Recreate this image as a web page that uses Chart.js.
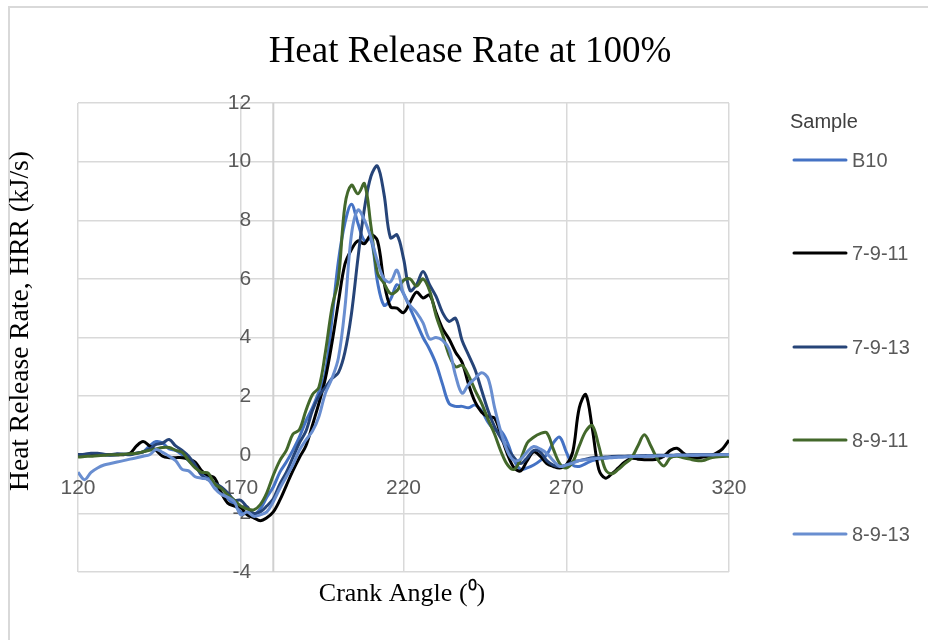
<!DOCTYPE html>
<html>
<head>
<meta charset="utf-8">
<title>Heat Release Rate at 100%</title>
<script src="https://cdn.jsdelivr.net/npm/chart.js@4.4.1/dist/chart.umd.min.js"></script>
<style>
    html, body { margin: 0; padding: 0; background: #fff; }
    #wrap { width: 928px; height: 640px; position: relative; }
</style>
</head>
<body>
<div id="wrap"><canvas id="hrr-chart"></canvas></div>
<script>
// Crank angle (degrees)
const crankAngles = [
    120, 122, 124, 126, 128, 130, 132, 134, 136, 138,
    140, 142, 144, 146, 148, 150, 152, 154, 156, 158,
    160, 162, 164, 166, 168, 170, 172, 174, 176, 178,
    180, 182, 184, 186, 188, 190, 192, 194, 196, 198,
    200, 202, 204, 206, 208, 210, 212, 214, 216, 218,
    220, 222, 224, 226, 228, 230, 232, 234, 236, 238,
    240, 242, 244, 246, 248, 250, 252, 254, 256, 258,
    260, 262, 264, 266, 268, 270, 272, 274, 276, 278,
    280, 282, 284, 286, 288, 290, 292, 294, 296, 298,
    300, 302, 304, 306, 308, 310, 312, 314, 316, 318,
    320
];

// Heat release rate (kJ/s) per sample
const hrrB10 = [
    0.0, 0.0, 0.02, 0.02, 0.0, -0.02, 0.0, 0.02, 0.03, 0.05,
    0.1, 0.3, 0.45, 0.4, 0.2, 0.15, 0.0, -0.2, -0.4, -0.6,
    -0.75, -1.0, -1.3, -1.5, -1.7, -1.95, -2.0, -2.05, -1.85, -1.45,
    -1.1, -0.6, -0.25, 0.15, 0.6, 1.15, 1.6, 2.15, 2.8, 4.6,
    6.6, 7.9, 8.55, 7.9, 7.3, 7.35, 5.9, 5.1, 5.3, 5.8,
    5.5, 5.0, 4.5, 4.0, 3.6, 3.1, 2.4, 1.75, 1.65, 1.65,
    1.6, 1.7, 1.5, 1.1, 0.85, 0.8, 0.4, -0.2, -0.5, -0.45,
    -0.35, -0.2, 0.0, 0.4, 0.6, 0.1, -0.35, -0.4, -0.3, -0.2,
    -0.15, -0.12, -0.1, -0.08, -0.07, -0.06, -0.05, -0.05, -0.04, -0.04,
    -0.03, -0.03, -0.02, -0.02, -0.02, -0.01, -0.01, -0.01, 0.0, 0.0,
    0.0
];
const hrr7911 = [
    0.0, 0.0, 0.0, 0.0, 0.0, 0.0, 0.0, 0.0, 0.05, 0.3,
    0.45, 0.3, 0.15, -0.05, -0.1, -0.1, -0.1, -0.15, -0.25, -0.55,
    -0.7, -0.8, -1.3, -1.65, -1.75, -1.8, -2.05, -2.15, -2.25, -2.15,
    -1.95, -1.55, -1.05, -0.55, -0.1, 0.3, 1.0, 1.75, 2.6, 3.8,
    5.2, 6.5, 7.0, 7.3, 7.2, 7.5, 7.3, 5.9, 5.05, 5.0,
    4.85, 5.2, 5.55, 5.35, 5.45, 4.85, 4.3, 3.95, 3.5, 3.15,
    2.4, 1.8, 1.45, 1.3, 1.25, 0.65, 0.0, -0.45, -0.55, -0.2,
    0.1, -0.05, -0.3, -0.4, -0.45, -0.35, 0.1, 1.6, 2.05, 0.9,
    -0.5, -0.8, -0.65, -0.45, -0.25, -0.12, -0.15, -0.17, -0.17, -0.15,
    -0.05, 0.15, 0.22, 0.05, -0.1, -0.12, -0.08, -0.05, 0.05, 0.2,
    0.5
];
const hrr7913 = [
    0.0, 0.02, 0.05, 0.05, 0.02, 0.0, 0.03, 0.02, 0.0, 0.05,
    0.1, 0.2, 0.35, 0.4, 0.52, 0.3, 0.15, -0.05, -0.35, -0.7,
    -0.85, -0.97, -1.1, -1.3, -1.55, -1.55, -1.8, -2.0, -1.95, -1.75,
    -1.5, -1.0, -0.6, -0.1, 0.4, 0.8, 1.5, 2.0, 2.3, 2.6,
    2.8, 3.5, 4.8, 6.7, 8.4, 9.5, 9.85, 8.9, 7.4, 7.5,
    6.7, 5.6, 5.8, 6.25, 5.8, 5.4, 4.85, 4.55, 4.65, 3.9,
    3.4, 2.9, 2.2, 1.5, 0.95, 0.55, 0.2, -0.1, -0.3, -0.1,
    0.15, 0.1, -0.2, -0.35, -0.4, -0.35, -0.25, -0.2, -0.15, -0.1,
    -0.1, -0.08, -0.06, -0.05, -0.05, -0.04, -0.04, -0.03, -0.03, -0.02,
    -0.02, -0.02, -0.01, -0.01, 0.0, 0.0, 0.0, 0.0, 0.0, 0.0,
    0.0
];
const hrr8911 = [
    -0.08, -0.06, -0.05, -0.03, -0.02, 0.0, 0.0, 0.02, 0.03, 0.05,
    0.1, 0.15, 0.2, 0.25, 0.25, 0.15, 0.08, -0.2, -0.45, -0.6,
    -0.63, -1.0, -1.15, -1.37, -1.55, -1.75, -1.85, -1.88, -1.7, -1.3,
    -0.7, -0.2, 0.15, 0.7, 0.85, 1.5, 2.05, 2.3, 3.5, 5.0,
    6.0, 8.5, 9.2, 8.9, 9.25, 7.8, 6.2, 5.85, 5.5, 5.6,
    5.95, 6.0, 5.75, 6.0, 5.6, 4.75, 4.1, 3.4, 3.0, 3.05,
    2.7, 2.2, 1.75, 1.2, 0.7, 0.1, -0.35, -0.5, -0.15, 0.4,
    0.6, 0.72, 0.75, 0.2, -0.3, -0.45, -0.25, 0.3, 0.8, 1.0,
    0.3, -0.5, -0.65, -0.5, -0.3, -0.12, 0.3, 0.68, 0.3, -0.15,
    -0.38, -0.1, -0.05, -0.1, -0.15, -0.2, -0.2, -0.12, -0.08, -0.06,
    -0.05
];
const hrr8913 = [
    -0.6, -0.85, -0.6, -0.45, -0.35, -0.3, -0.25, -0.2, -0.15, -0.1,
    -0.05, 0.0, 0.18, 0.08, -0.05, -0.2, -0.5, -0.55, -0.75, -0.8,
    -0.85, -1.15, -1.35, -1.45, -1.6, -2.05, -1.95, -2.1, -2.05, -1.95,
    -1.6, -1.15, -0.75, -0.35, 0.15, 0.5, 0.8, 1.3, 2.1, 2.6,
    3.3, 5.0, 7.5, 8.35, 8.0, 7.4, 6.6, 6.0, 5.9, 6.3,
    5.5, 5.1, 4.85, 4.5, 3.95, 4.0, 3.9, 3.6, 2.7, 2.1,
    2.4, 2.6, 2.8, 2.6, 1.6, 0.75, 0.1, -0.2, -0.15, 0.1,
    0.28, 0.2, 0.05, -0.2, -0.4, -0.35, -0.28, -0.2, -0.17, -0.14,
    -0.12, -0.1, -0.09, -0.08, -0.07, -0.06, -0.05, -0.05, -0.04, -0.04,
    -0.03, -0.03, -0.02, -0.02, -0.02, -0.01, -0.01, -0.01, 0.0, 0.0,
    0.0
];

const seriesNames = ["B10", "7-9-11", "7-9-13", "8-9-11", "8-9-13"];
const seriesValues = [hrrB10, hrr7911, hrr7913, hrr8911, hrr8913];
const seriesColors = ["#4472C4", "#000000", "#264478", "#43682B", "#698ED0"];

const xTickValues = [120, 170, 220, 270, 320];
const yTickValues = [-4, -2, 0, 2, 4, 6, 8, 10, 12];
const yAxisCrossing = 180;

const serif = '"Liberation Serif", "Times New Roman", serif';
const sans = '"Liberation Sans", Arial, sans-serif';

// Frame, vertical axis line, titles and the legend are painted by hand
const decorations = {
    id: "decorations",
    beforeDraw(chart) {
        const ctx = chart.ctx;
        ctx.save();
        ctx.fillStyle = "#ffffff";
        ctx.fillRect(0, 0, chart.width, chart.height);
        ctx.strokeStyle = "#d9d9d9";
        ctx.lineWidth = 2;
        ctx.beginPath();
        ctx.moveTo(9, chart.height + 5);
        ctx.lineTo(9, 7);
        ctx.lineTo(chart.width + 5, 7);
        ctx.stroke();
        ctx.restore();
    },
    beforeDatasetsDraw(chart) {
        const ctx = chart.ctx;
        const area = chart.chartArea;
        const x = chart.scales.x.getPixelForValue(yAxisCrossing);
        ctx.save();
        ctx.strokeStyle = "#d0d0d0";
        ctx.lineWidth = 2;
        ctx.beginPath();
        ctx.moveTo(x, area.top);
        ctx.lineTo(x, area.bottom);
        ctx.stroke();
        ctx.restore();
    },
    afterDraw(chart) {
        const ctx = chart.ctx;
        ctx.save();
        ctx.fillStyle = "#000000";
        ctx.textAlign = "center";
        ctx.textBaseline = "middle";

        ctx.font = "37px " + serif;
        ctx.fillText("Heat Release Rate at 100%", 470, 52);

        ctx.font = "26px " + serif;
        ctx.fillText("Crank Angle (\u2070)", 402, 594);

        ctx.save();
        ctx.translate(21, 321);
        ctx.rotate(-Math.PI / 2);
        ctx.font = "27.5px " + serif;
        ctx.fillText("Heat Release Rate, HRR (kJ/s)", 0, 0);
        ctx.restore();

        // Legend
        ctx.textAlign = "left";
        ctx.font = "20px " + sans;
        ctx.fillStyle = "#404040";
        ctx.fillText("Sample", 790, 122);

        const rows = [160, 253, 347, 440, 534];
        seriesNames.forEach((name, i) => {
            ctx.strokeStyle = seriesColors[i];
            ctx.lineWidth = 3;
            ctx.lineCap = "round";
            ctx.beginPath();
            ctx.moveTo(794, rows[i]);
            ctx.lineTo(846, rows[i]);
            ctx.stroke();
            ctx.fillStyle = "#595959";
            ctx.fillText(name, 852, rows[i] + 1);
        });
        ctx.restore();
    },
};

document.addEventListener("DOMContentLoaded", () => {
    const ctx = document.getElementById("hrr-chart").getContext("2d");

    const hrrChart = new Chart(ctx, {
        type: "line",
        data: {
            datasets: seriesNames.map((name, i) => ({
                label: name,
                data: crankAngles.map((a, j) => ({ x: a, y: seriesValues[i][j] })),
                borderColor: seriesColors[i],
                backgroundColor: seriesColors[i],
                borderWidth: 3,
                pointRadius: 0,
                tension: 0.35,
                fill: false,
                order: seriesNames.length - i,
            })),
        },
        options: {
            responsive: true,
            maintainAspectRatio: false,
            animation: false,
            devicePixelRatio: 1,
            layout: {
                padding: { left: 78, right: 199, top: 103, bottom: 68 },
            },
            plugins: {
                legend: { display: false },
                title: { display: false },
                tooltip: { enabled: false },
            },
            scales: {
                x: {
                    type: "linear",
                    position: { y: 0 },
                    min: 120,
                    max: 320,
                    afterBuildTicks: axis => {
                        axis.ticks = xTickValues.map(v => ({ value: v }));
                    },
                    grid: { color: "#d9d9d9", lineWidth: 1.5, drawTicks: false },
                    border: { display: true, color: "#d9d9d9", width: 1.5 },
                    ticks: {
                        padding: 21,
                        color: "#595959",
                        font: { family: sans, size: 21 },
                        maxRotation: 0,
                    },
                },
                y: {
                    type: "linear",
                    // labels sit a little left of the axis line at 180
                    position: { x: 173.2 },
                    min: -4,
                    max: 12,
                    afterBuildTicks: axis => {
                        axis.ticks = yTickValues.map(v => ({ value: v }));
                    },
                    grid: { color: "#d9d9d9", lineWidth: 1.5, drawTicks: false },
                    border: { display: false },
                    ticks: {
                        color: "#595959",
                        font: { family: sans, size: 21 },
                    },
                },
            },
        },
        plugins: [decorations],
    });
});
</script>
</body>
</html>
